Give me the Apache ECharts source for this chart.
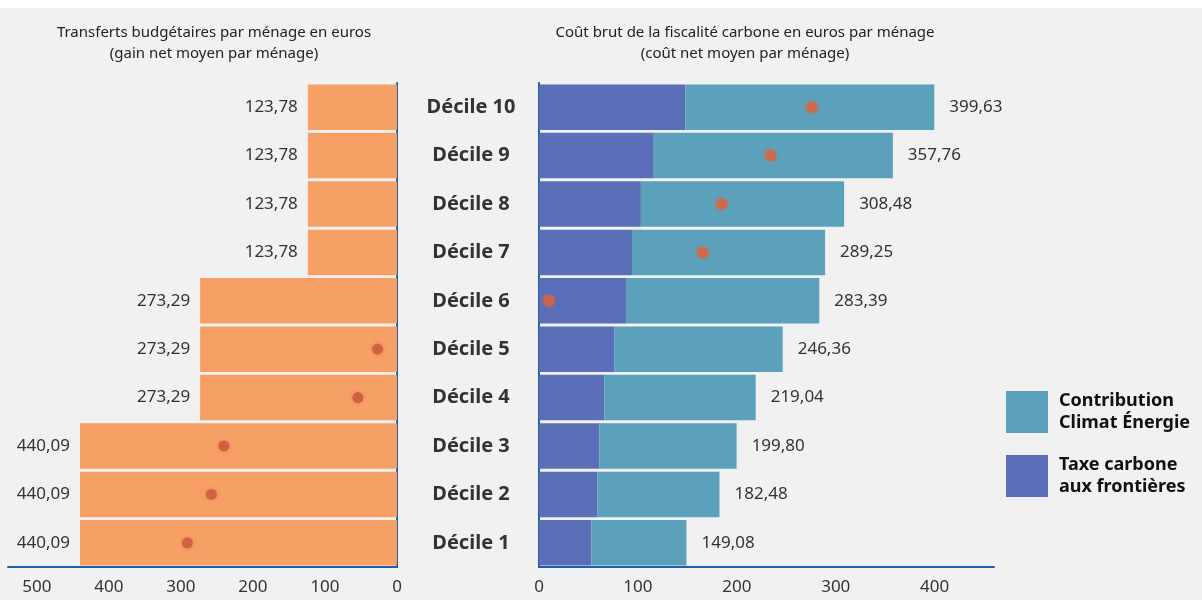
<!DOCTYPE html>
<html>
<head>
<meta charset="utf-8">
<script src="https://cdn.jsdelivr.net/npm/echarts@6/dist/echarts.min.js"></script>
<style>
  html, body { margin: 0; padding: 0; background: #f0f1f0; }
  #chart { width: 1202px; height: 600px; }
</style>
</head>
<body>
<div id="chart"></div>
<script>
// catégories (du bas vers le haut)
var deciles = ['Décile 1', 'Décile 2', 'Décile 3', 'Décile 4', 'Décile 5',
               'Décile 6', 'Décile 7', 'Décile 8', 'Décile 9', 'Décile 10'];

// transferts budgétaires par ménage
var transferts = [440.09, 440.09, 440.09, 273.29, 273.29, 273.29, 123.78, 123.78, 123.78, 123.78];

// coût brut total et part taxe carbone aux frontières
var coutBrut = [149.08, 182.48, 199.80, 219.04, 246.36, 283.39, 289.25, 308.48, 357.76, 399.63];
var taxeFrontieres = [53, 59, 61, 66, 76, 88, 94, 103, 116, 148];
var contributionCE = [96.08, 123.48, 138.80, 153.04, 170.36, 195.39, 195.25, 205.48, 241.76, 251.63];

// points rouges : gain net (panneau gauche) et coût net (panneau droit)
var gainNet = [291.0, 257.6, 240.3, 54.3, 26.9, null, null, null, null, null];
var coutNet = [null, null, null, null, null, 10.1, 165.5, 184.7, 234.0, 275.9];

var leftTicks = [0, 100, 200, 300, 400, 500];
var rightTicks = [0, 100, 200, 300, 400];

function fr(v) {
  return v.toFixed(2).replace('.', ',');
}

var myChart = echarts.init(document.getElementById('chart'));

var font = 'Noto Sans';
var axisBlue = '#2160a8';

var options = {
  backgroundColor: '#f0f1f0',
  textStyle: { fontFamily: font },
  title: [
    {
      text: 'Transferts budgétaires par ménage en euros\n(gain net moyen par ménage)',
      left: 209, top: 17, textAlign: 'center',
      textStyle: { fontSize: 15, fontWeight: 'normal', color: '#222', lineHeight: 21, fontFamily: font }
    },
    {
      text: 'Coût brut de la fiscalité carbone en euros par ménage\n(coût net moyen par ménage)',
      left: 740, top: 17, textAlign: 'center',
      textStyle: { fontSize: 15, fontWeight: 'normal', color: '#222', lineHeight: 21, fontFamily: font }
    }
  ],
  legend: {
    orient: 'vertical',
    left: 1001, top: 385,
    itemWidth: 42, itemHeight: 42, itemGap: 20,
    icon: 'rect',
    data: ['Contribution Climat Énergie', 'Taxe carbone aux frontières'],
    formatter: function (name) {
      return name === 'Contribution Climat Énergie' ? 'Contribution\nClimat Énergie' : 'Taxe carbone\naux frontières';
    },
    textStyle: { fontSize: 18, fontWeight: 'bold', color: '#111', lineHeight: 22, fontFamily: font, padding: [0, 0, 0, 6] }
  },
  grid: [
    { left: 8, top: 83, width: 389, height: 484 },
    { left: 539, top: 83, width: 455, height: 484 }
  ],
  xAxis: [
    {
      gridIndex: 0, type: 'value', inverse: true, min: 0, max: 540, interval: 100,
      splitLine: { show: false },
      axisLine: { show: true, lineStyle: { color: axisBlue, width: 2 } },
      axisTick: { show: false },
      axisLabel: {
        margin: 12, fontSize: 17, color: '#333', showMaxLabel: false,
        formatter: function (v) { return leftTicks.indexOf(v) >= 0 ? v : ''; }
      }
    },
    {
      gridIndex: 1, type: 'value', min: 0, max: 460, interval: 100,
      splitLine: { show: false },
      axisLine: { show: true, lineStyle: { color: axisBlue, width: 2 } },
      axisTick: { show: false },
      axisLabel: {
        margin: 12, fontSize: 17, color: '#333', showMaxLabel: false,
        formatter: function (v) { return rightTicks.indexOf(v) >= 0 ? v : ''; }
      }
    }
  ],
  yAxis: [
    {
      gridIndex: 0, type: 'category', data: deciles, position: 'right',
      axisLine: { show: true, lineStyle: { color: axisBlue, width: 2 } },
      axisTick: { show: false },
      axisLabel: { show: false }
    },
    {
      gridIndex: 1, type: 'category', data: deciles,
      axisLine: { show: true, lineStyle: { color: axisBlue, width: 2 } },
      axisTick: { show: false },
      axisLabel: {
        align: 'center', margin: 68,
        fontSize: 20, fontWeight: 'bold', color: '#333', fontFamily: font
      }
    }
  ],
  series: [
    {
      name: 'Transferts',
      type: 'bar',
      xAxisIndex: 0, yAxisIndex: 0,
      data: transferts,
      barCategoryGap: '6%',
      itemStyle: { color: '#f7a066' },
      label: {
        show: true, position: 'left', distance: 10,
        fontSize: 17, color: '#333',
        formatter: function (p) { return fr(p.value); }
      }
    },
    {
      name: 'Taxe carbone aux frontières',
      type: 'bar',
      xAxisIndex: 1, yAxisIndex: 1,
      stack: 'cout',
      data: taxeFrontieres,
      barCategoryGap: '6%',
      itemStyle: { color: '#5a6fb8' }
    },
    {
      name: 'Contribution Climat Énergie',
      type: 'bar',
      xAxisIndex: 1, yAxisIndex: 1,
      stack: 'cout',
      data: contributionCE,
      barCategoryGap: '6%',
      itemStyle: { color: '#5ba1bb' },
      label: {
        show: true, position: 'right', distance: 15,
        fontSize: 17, color: '#333',
        formatter: function (p) { return fr(coutBrut[p.dataIndex]); }
      }
    },
    {
      name: 'Gain net',
      type: 'scatter',
      xAxisIndex: 0, yAxisIndex: 0,
      data: gainNet,
      symbolSize: 11,
      z: 5,
      itemStyle: { color: '#c9573c', shadowBlur: 4, shadowColor: 'rgba(200,80,50,0.5)' }
    },
    {
      name: 'Coût net',
      type: 'scatter',
      xAxisIndex: 1, yAxisIndex: 1,
      data: coutNet,
      symbolSize: 12,
      z: 5,
      itemStyle: { color: '#e0623c', shadowBlur: 4, shadowColor: 'rgba(230,100,60,0.5)' }
    }
  ],
  graphic: [
    { type: 'rect', left: 0, top: 0, shape: { width: 1202, height: 8 }, style: { fill: '#ffffff' } }
  ]
};

myChart.setOption(options, true);
</script>
</body>
</html>
